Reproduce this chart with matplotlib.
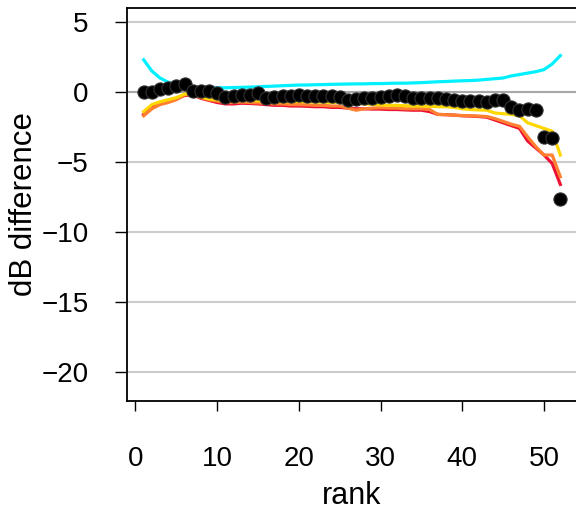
import matplotlib.pyplot as plt

plt.rcParams['font.family'] = ['Liberation Sans', 'DejaVu Sans']

rank = list(range(1, 53))

cyan_vals = [2.3, 1.5, 1.0, 0.7, 0.5, 0.35, 0.3, 0.28, 0.28, 0.3,
             0.3, 0.32, 0.33, 0.35, 0.37, 0.4, 0.42, 0.45, 0.47, 0.5,
             0.5, 0.52, 0.53, 0.55, 0.56, 0.57, 0.58, 0.58, 0.6, 0.6,
             0.62, 0.63, 0.63, 0.65, 0.67, 0.7, 0.73, 0.75, 0.78, 0.8,
             0.82, 0.85, 0.9, 0.95, 1.0, 1.15, 1.25, 1.35, 1.45, 1.6,
             2.0, 2.6]

yellow_vals = [-1.4, -0.9, -0.7, -0.55, -0.4, -0.15, -0.1, -0.35, -0.5, -0.55,
               -0.6, -0.6, -0.62, -0.6, -0.62, -0.65, -0.68, -0.7, -0.7, -0.68,
               -0.7, -0.72, -0.72, -0.75, -0.72, -0.75, -0.8, -0.85, -0.88, -0.92,
               -0.95, -0.95, -0.98, -1.0, -1.0, -1.02, -1.05, -1.05, -1.1, -1.2,
               -1.25, -1.28, -1.3, -1.5, -1.55, -1.6, -1.7, -2.2, -2.4, -2.6,
               -2.8, -4.5]

orange_vals = [-1.7, -1.2, -0.9, -0.75, -0.55, -0.2, -0.15, -0.4, -0.55, -0.65,
               -0.75, -0.75, -0.72, -0.75, -0.78, -0.8, -0.85, -0.85, -0.9, -0.9,
               -0.92, -0.95, -0.95, -1.0, -1.0, -1.15, -1.3, -1.2, -1.15, -1.12,
               -1.15, -1.15, -1.2, -1.2, -1.2, -1.25, -1.6, -1.62, -1.65, -1.68,
               -1.7, -1.72, -1.75, -1.9, -2.1, -2.3, -2.45, -3.2, -3.9, -4.5,
               -4.5, -6.05]

red_vals = [-1.6, -1.1, -0.85, -0.7, -0.5, -0.25, -0.2, -0.45, -0.6, -0.75,
            -0.85, -0.85, -0.8, -0.82, -0.85, -0.9, -0.95, -0.95, -1.0, -1.0,
            -1.02, -1.05, -1.05, -1.1, -1.1, -1.15, -1.2, -1.2, -1.22, -1.22,
            -1.25, -1.25, -1.28, -1.3, -1.3, -1.4, -1.6, -1.62, -1.65, -1.7,
            -1.72, -1.75, -1.8, -2.0, -2.2, -2.4, -2.6, -3.5, -4.0, -4.5,
            -5.1, -6.6]

black_vals = [0.0, 0.0, 0.25, 0.3, 0.4, 0.55, 0.05, 0.1, 0.05, -0.1,
              -0.35, -0.3, -0.2, -0.2, -0.05, -0.45, -0.35, -0.3, -0.25, -0.22,
              -0.25, -0.3, -0.32, -0.32, -0.35, -0.55, -0.5, -0.45, -0.42, -0.35,
              -0.3, -0.2, -0.3, -0.4, -0.4, -0.45, -0.45, -0.5, -0.6, -0.62,
              -0.62, -0.65, -0.68, -0.55, -0.57, -1.1, -1.25, -1.2, -1.3, -3.2,
              -3.25, -7.65]

yticks = [-20, -15, -10, -5, 0, 5]
xticks = [0, 10, 20, 30, 40, 50]

fig = plt.figure(figsize=(5.76, 5.12), dpi=100)
ax = fig.add_axes([127 / 576, 1 - 401 / 512, 450 / 576, 393 / 512])

# grille horizontale, ligne du zéro un peu plus foncée
for yv in yticks:
    ax.axhline(yv, color='#CCCCCC', lw=1.5, zorder=0)
ax.axhline(0, color='#A8A8A8', lw=1.5, zorder=0)

ax.plot(rank, cyan_vals, color='#00F0FF', lw=2.3)
ax.plot(rank, red_vals, color='#EE1133', lw=2.3)
ax.plot(rank, orange_vals, color='#FF8030', lw=2.3)
ax.plot(rank, yellow_vals, color='#FFD700', lw=2.3)
ax.plot(rank, black_vals, 'o', color='black', markersize=9.5,
        markeredgecolor='#333333', markeredgewidth=0.8)

ax.set_xlim(-1.04, 54.04)
ax.set_ylim(-22.07, 6.0)
ax.set_xticks(xticks)
ax.set_yticks(yticks)
ax.set_yticklabels(['\u221220', '\u221215', '\u221210', '\u22125', '0', '5'])

ax.tick_params(axis='y', length=8.6, width=1, pad=19, labelsize=20)
ax.tick_params(axis='x', length=7.5, width=1, pad=25, labelsize=20)
ax.set_xlabel('rank', fontsize=22, labelpad=6.5)
ax.set_ylabel('dB difference', fontsize=22.5, labelpad=2)

for s in ax.spines.values():
    s.set_linewidth(1.3)

fig.savefig('out.png', dpi=100)
